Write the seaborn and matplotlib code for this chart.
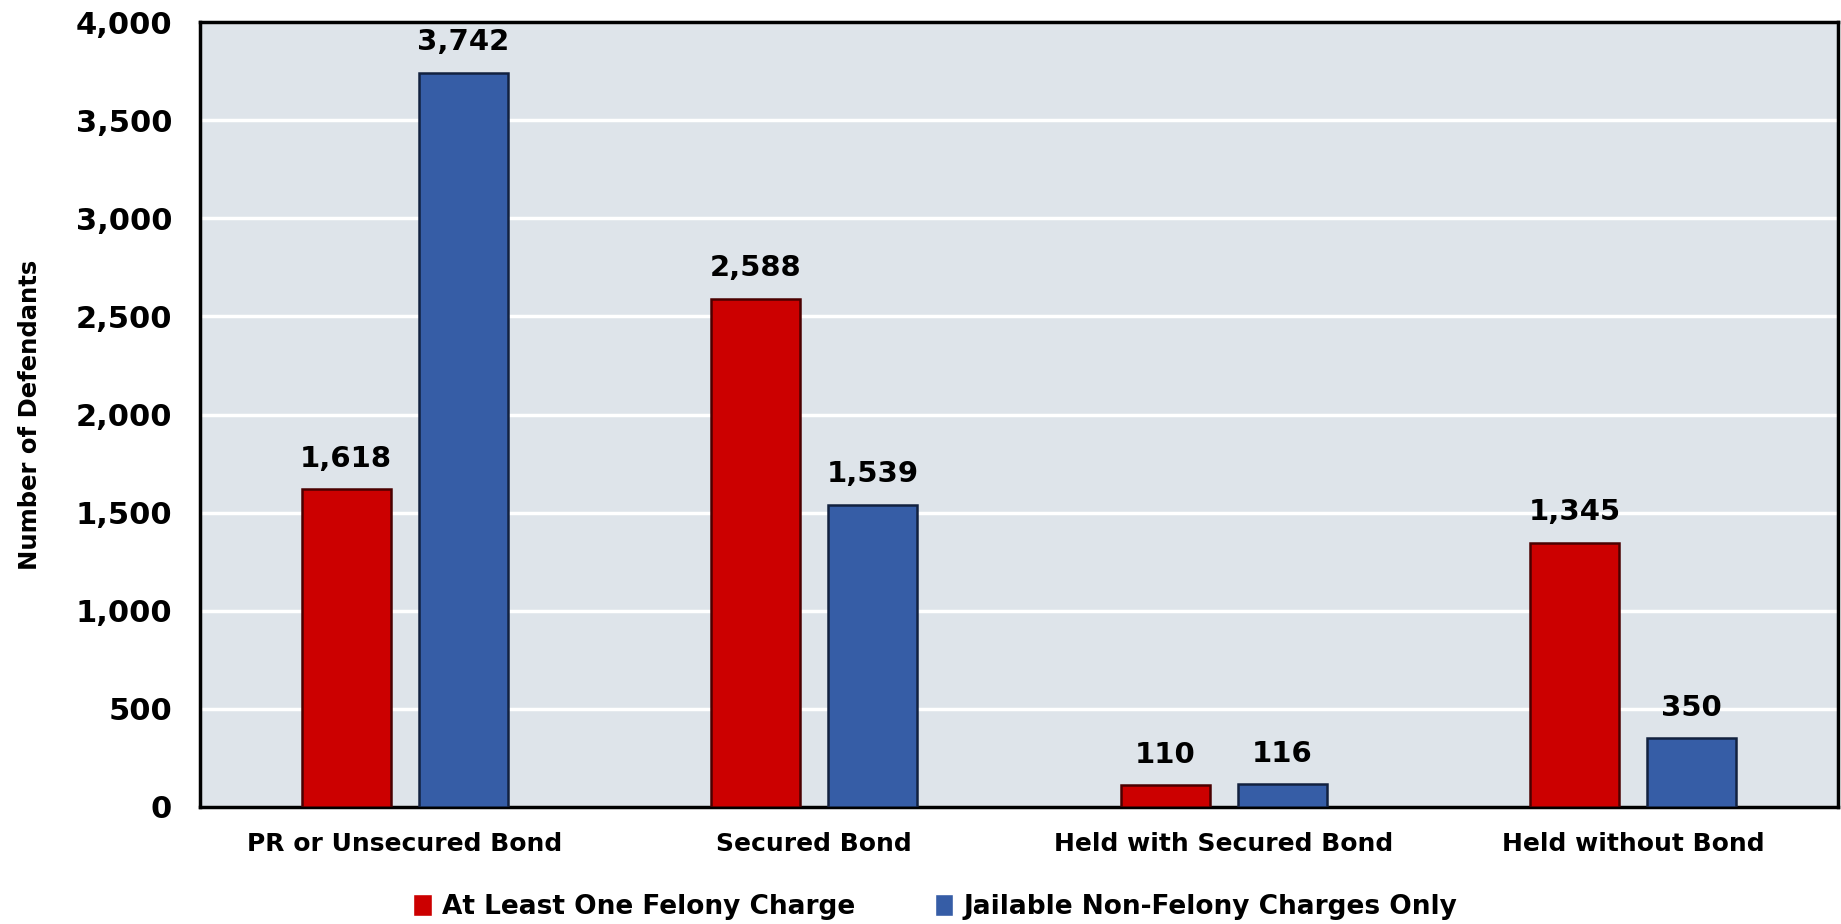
import matplotlib
matplotlib.use("Agg")
import matplotlib.pyplot as plt
import seaborn as sns
import pandas as pd
from matplotlib.ticker import FuncFormatter

categories = ["PR or Unsecured Bond", "Secured Bond", "Held with Secured Bond", "Held without Bond"]
series_names = ["At Least One Felony Charge", "Jailable Non-Felony Charges Only"]
felony = [1618, 2588, 110, 1345]
non_felony = [3742, 1539, 116, 350]

colors = {"At Least One Felony Charge": "#CC0000",
          "Jailable Non-Felony Charges Only": "#365DA6"}
edges = {"At Least One Felony Charge": "#4A0000",
         "Jailable Non-Felony Charges Only": "#12213F"}

df = pd.DataFrame({
    "category": categories * 2,
    "series": [series_names[0]] * 4 + [series_names[1]] * 4,
    "count": felony + non_felony,
})

sns.set_style("white")
plt.rcParams["font.family"] = ["DejaVu Sans"]
plt.rcParams["text.color"] = "black"
plt.rcParams["xtick.color"] = "black"
plt.rcParams["ytick.color"] = "black"
plt.rcParams["axes.labelcolor"] = "black"

fig = plt.figure(figsize=(18.41, 9.24), dpi=100)
ax = fig.add_axes([200 / 1841, 1 - 807 / 924, 1638 / 1841, 785 / 924])
ax.set_facecolor("#DEE4EA")

sns.barplot(data=df, x="category", y="count", hue="series", order=categories,
            hue_order=series_names, palette=colors, saturation=1, width=0.572, gap=0.24,
            ax=ax, zorder=3, legend=True)

# dark edges to hint at the bevelled bars
for container, name in zip(ax.containers, series_names):
    for bar in container:
        bar.set_edgecolor(edges[name])
        bar.set_linewidth(1.8)
    ax.bar_label(container, labels=[f"{int(v):,}" for v in container.datavalues],
                 padding=12, fontsize=21, fontweight="bold", color="black")

ax.set_ylim(0, 4000)
ax.set_yticks(range(0, 4001, 500))
ax.yaxis.set_major_formatter(FuncFormatter(lambda v, p: f"{int(v):,}"))
ax.grid(axis="y", color="white", linewidth=2.5, zorder=0)
ax.set_axisbelow(True)

for side in ["left", "right", "top", "bottom"]:
    ax.spines[side].set_visible(True)
    ax.spines[side].set_color("black")
    ax.spines[side].set_linewidth(2.5)

ax.tick_params(axis="y", labelsize=22, pad=20, length=0)
ax.tick_params(axis="x", labelsize=18, pad=18, length=0)
for lab in ax.get_yticklabels() + ax.get_xticklabels():
    lab.set_fontweight("bold")

ax.set_xlabel("")
ax.set_ylabel("Number of Defendants", fontsize=17.5, fontweight="bold", labelpad=24)

handles, labels = ax.get_legend_handles_labels()
ax.legend(handles, labels, loc="center", bbox_to_anchor=(0.449, -0.127),
          ncol=2, frameon=False, prop={"weight": "bold", "size": 19},
          handlelength=0.7, handleheight=0.9, handletextpad=0.4, columnspacing=3.0)

fig.savefig("out.png", dpi=100)
